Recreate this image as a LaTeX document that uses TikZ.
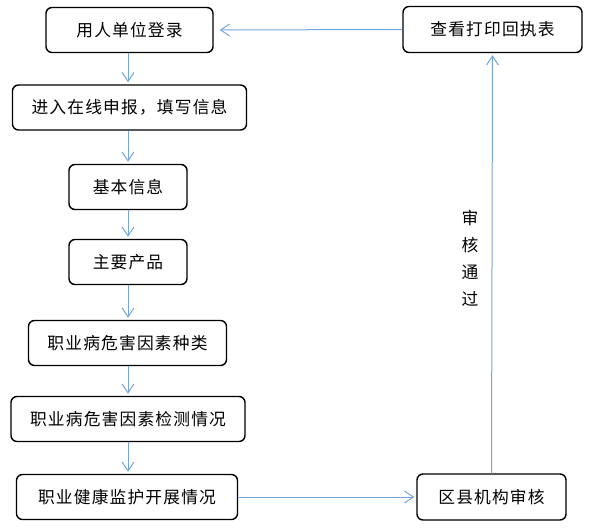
\documentclass[tikz,border=0pt]{standalone}
\usepackage{fontspec}
\newfontfamily\cjk[LetterSpace=7]{Noto Sans CJK SC}
\usetikzlibrary{arrows.meta}
\definecolor{flowblue}{HTML}{75A6DA}
\tikzset{
  box/.style={draw=black, line width=1.4bp, rounded corners=6bp, fill=white,
    minimum height=45bp, inner sep=0pt, font=\cjk\fontsize{16.8}{19}\selectfont},
  flow/.style={draw=flowblue, line width=1bp,
    -{Straight Barb[length=9bp,width=12bp,line width=1bp]}, shorten >=2bp},
}
\begin{document}
\begin{tikzpicture}[x=1bp,y=-1bp]
\useasboundingbox (0,0) rectangle (594,529);
\node[box, minimum width=167bp] (b1) at (129.5,30) {用人单位登录};
\node[box, minimum width=234bp] (b2) at (129.5,107.5) {进入在线申报，填写信息};
\node[box, minimum width=118bp] (b3) at (128,187) {基本信息};
\node[box, minimum width=118bp] (b4) at (128,262) {主要产品};
\node[box, minimum width=198bp] (b5) at (127.5,343) {职业病危害因素种类};
\node[box, minimum width=234bp] (b6) at (128,419) {职业病危害因素检测情况};
\node[box, minimum width=221bp] (b7) at (127,497) {职业健康监护开展情况};
\node[box, minimum width=149bp, minimum height=46bp] (b8) at (491.5,497) {区县机构审核};
\node[box, minimum width=179bp, minimum height=46bp] (b9) at (492.5,29.5) {查看打印回执表};
\node[font=\cjk\fontsize{16.8}{27}\selectfont, align=center, inner sep=0pt] (lbl) at (470,258.5) {审\\核\\通\\过};
\draw[flow] (b1.south -| 128,0) -- (b2.north -| 128,0);
\draw[flow] (b2.south -| 128,0) -- (b3.north -| 128,0);
\draw[flow] (b3.south -| 128,0) -- (b4.north -| 128,0);
\draw[flow] (b4.south -| 128,0) -- (b5.north -| 128,0);
\draw[flow] (b5.south -| 128,0) -- (b6.north -| 128,0);
\draw[flow] (b6.south -| 128,0) -- (b7.north -| 128,0);
\draw[flow] (b7.east) -- (b8.west);
\draw[flow] (b8.north) -- (b9.south);
\draw[flow, shorten >=6bp] (b9.west) -- (b1.east);
\end{tikzpicture}
\end{document}
